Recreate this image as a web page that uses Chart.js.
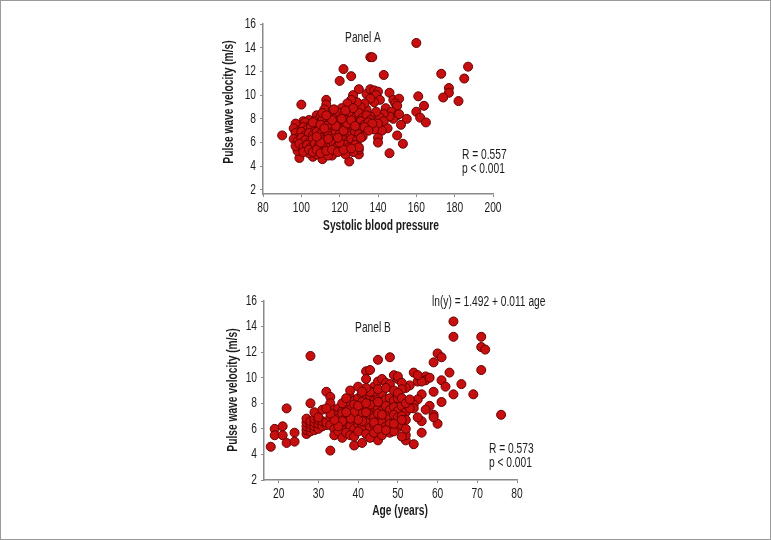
<!DOCTYPE html>
<html><head><meta charset="utf-8">
<script src="https://cdn.jsdelivr.net/npm/chart.js@4.4.0/dist/chart.umd.min.js"></script>
<style>
html,body{margin:0;padding:0;background:#fff;}
#frame{position:absolute;left:0;top:0;width:771px;height:540px;box-sizing:border-box;border:1px solid #9a9a9a;}
#ca{position:absolute;left:200px;top:0;}
#cb{position:absolute;left:200px;top:265px;}
</style></head>
<body>
<div id="frame"></div>
<canvas id="ca" width="330" height="245"></canvas>
<canvas id="cb" width="371" height="275"></canvas>
<script>
// ---------- Data ----------
const yTicks = [2, 4, 6, 8, 10, 12, 14, 16];
const sbpTicks = [80, 100, 120, 140, 160, 180, 200];
const ageTicks = [20, 30, 40, 50, 60, 70, 80];

// Panel A: [systolic blood pressure, pulse wave velocity]
const panelAPoints = [
 [160,14.4],[136,13.2],[137,13.2],[187,12.4],[122,12.2],[173,11.8],[143,11.7],[126,11.6],[185,11.4],[120,11.2],
 [177,10.6],[177,10.2],[174,9.8],[182,9.5],[161,9.9],[164,9.1],[160,8.6],[162,8.1],[165,7.7],[155,8.0],
 [152,7.5],[150,6.6],[153,5.9],[146,5.1],[100,9.2],[90,6.6],[125,4.4],[99,4.7],[111,4.6],
 [130,10.5],[127,10.0],[134,10.1],[136,10.5],[138,10.4],[140,10.3],[137,9.8],[139,10.0],[141,9.6],[138,9.4],
 [136,9.7],[146,10.2],[148,9.6],[151,9.7],[149,9.3],[150,9.1],[144,8.9],[147,8.6],[150,8.3],[148,8.0],
 [151,8.4],[146,8.2],[143,8.4],[141,8.1],[139,8.6],[143,7.8],[145,7.2],[142,7.0],[140,7.6],[138,7.1],
 [140,6.4],[140,6.0],[136,8.2],[134,8.8],[133,9.3],[131,9.0],[129,9.4],[126,9.6],[124,9.3],[121,8.9],
 [119,8.5],[113,9.6],[113,9.2],[112,8.8],[130,5.0],[130,5.4],[127,5.2],[123,5.0],[116,4.9],[114,4.9],
 [106,4.8],[108,5.0],[104,5.1],[100,5.3],[98,5.3],
 [108,8.3],[110,8.2],[114,8.0],[116,8.4],[118,8.1],[120,8.5],[122,8.3],[124,8.1],[126,8.4],[128,8.2],
 [130,8.5],[132,8.1],[134,8.3],[136,7.9],[101,7.8],[104,7.9],
 [97,7.6],[102,7.7],[105,7.5],[107,7.8],[109,7.6],[111,7.9],[113,7.6],[115,7.8],[117,7.5],[119,7.8],
 [121,7.6],[123,7.9],[125,7.6],[127,7.8],[129,7.6],[131,7.8],[133,7.5],[135,7.7],[137,7.6],
 [96,7.2],[99,7.0],[101,7.3],[103,7.1],[105,7.3],[107,7.0],[109,7.3],[111,7.1],[113,7.4],[115,7.2],
 [117,7.0],[119,7.3],[121,7.1],[123,7.4],[125,7.2],[127,7.0],[129,7.3],[131,7.1],[133,7.3],[135,7.0],
 [97,6.8],[99,6.5],[100,6.9],[102,6.6],[104,6.8],[106,6.6],[108,6.9],[110,6.7],[112,6.5],[114,6.8],
 [116,6.6],[118,6.9],[120,6.7],[122,6.5],[124,6.8],[126,6.6],[128,6.9],[130,6.7],[132,6.5],
 [96,6.3],[98,6.1],[100,6.4],[102,6.2],[104,6.0],[106,6.3],[108,6.1],[110,6.4],[112,6.2],[114,6.0],
 [116,6.3],[118,6.1],[120,6.4],[122,6.2],[124,6.0],[126,6.3],[129,6.2],[131,6.4],
 [97,5.7],[99,5.9],[101,5.6],[103,5.8],[105,5.6],[107,5.9],[109,5.7],[111,5.5],[113,5.8],[115,5.6],
 [117,5.9],[119,5.7],[121,5.5],[123,5.8],[125,5.6],[128,5.8],[130,5.6],
 [101,5.2],[104,5.4],[106,5.2],[108,5.4],[110,5.1],[113,5.3],[116,5.4],[119,5.2],[122,5.4],[126,5.5],
 [106,7.7],[110,7.5],[112,7.2],[114,6.3],[118,7.4],[120,6.0],[122,7.0],[124,7.6],[126,7.9],[128,7.4],
 [110,6.0],[108,6.5],[116,7.9],[119,6.4],[121,8.0],[125,8.6],[127,8.9],[123,8.7],[117,8.8],[111,8.5],[113,8.3]
];

// Panel B: [age, pulse wave velocity]
const panelBPoints = [
 [18,4.6],[19,6.0],[19,5.5],[21,6.2],[21,5.5],[22,7.6],[22,4.9],[24,5.7],[24,5.0],[28,11.7],
 [28,8.0],[32,8.9],[33,4.3],[39,4.7],[41,4.9],[42,10.5],[43,10.6],[42,9.9],[45,11.4],[48,11.6],
 [45,5.1],[49,10.2],[50,9.9],[50,10.1],[52,5.1],[52,5.5],[54,4.8],[54,10.4],[57,10.1],[57,9.8],
 [59,11.2],[60,11.9],[61,11.6],[61,9.8],[62,9.3],[63,10.4],[64,14.4],[64,13.2],[64,8.7],[66,9.5],
 [69,8.7],[71,13.2],[71,12.4],[72,12.2],[71,10.6],[76,7.1],[61,8.1],[60,6.4],[59,7.1],[59,6.9],
 [59,8.9],[58,7.8],[56,5.7],[56,6.6],[56,8.7],[55,8.3],[55,9.7],[56,9.7],[58,10.0],[55,10.2],
 [53,9.4],[52,9.2],[51,9.6],[51,9.1],[53,7.7],[54,7.9],[54,7.6],[57,7.5],[55,6.9],
 [27,5.6],[27,5.9],[27,6.2],[27,6.5],[27,6.8],[28,5.8],[28,6.1],[28,6.4],[28,6.6],[29,5.9],
 [29,6.2],[29,6.5],[29,6.8],[30,6.0],[30,6.4],[30,6.7],[31,6.2],[31,6.6],[32,6.3],[32,6.5],
 [29,7.3],[30,6.9],[31,7.5],[33,8.5],[33,8.0],[34,7.5],
 [38,8.5],[39,8.2],[40,8.4],[41,8.7],[42,8.3],[43,8.6],[44,8.2],[45,8.5],[46,8.8],[47,8.3],
 [48,8.4],[49,8.2],[50,8.4],[44,9.3],[45,9.7],[46,9.9],[47,9.6],[44,8.9],[48,9.5],[41,8.1],
 [35,7.6],[36,7.4],[37,7.8],[38,7.5],[39,7.9],[40,7.6],[41,7.4],[42,7.8],[43,7.5],[44,7.9],
 [45,7.6],[46,7.4],[47,7.8],[48,7.5],[49,7.7],[50,7.4],[51,7.8],[52,7.3],[53,7.6],
 [33,6.9],[34,7.1],[35,6.8],[36,7.2],[37,6.9],[38,7.1],[39,6.7],[40,7.0],[41,7.2],[42,6.8],
 [43,7.1],[44,6.9],[45,7.2],[46,6.7],[47,7.0],[48,6.8],[49,7.1],[50,6.9],[51,7.0],[52,6.7],
 [33,6.3],[34,6.0],[35,6.4],[36,6.1],[37,6.5],[38,6.2],[39,6.0],[40,6.4],[41,6.2],[42,6.5],
 [43,6.1],[44,6.3],[46,6.5],[47,6.2],[48,6.4],[50,6.1],[51,6.3],[52,6.0],
 [34,5.5],[35,5.8],[36,5.3],[37,5.7],[38,5.5],[39,5.4],[40,5.8],[42,5.6],[43,5.3],[44,5.7],
 [46,5.5],[48,5.7],[49,5.8],[51,5.4],
 [39,7.3],[40,7.8],[41,6.6],[42,7.3],[43,7.9],[44,6.5],[45,8.1],[46,7.1],[42,8.0],[40,6.7],
 [38,6.8],[37,7.3],[36,6.6],[35,6.2],[34,6.7],[33,7.2],[32,7.6],[43,8.9],[42,9.2],[45,9.1],
 [47,9.2],[49,9.0],[50,8.8],[51,8.4],[52,8.0],[53,8.3],[36,8.0],[37,8.4],[38,9.0],[40,9.3],
 [41,8.9],[45,6.0],[47,5.9],[49,6.4],[51,6.7]
];

const yTitle = 'Pulse wave velocity (m/s)';
const xTitleA = 'Systolic blood pressure';
const xTitleB = 'Age (years)';
const notesA = [
  {text: 'Panel A', x: 163, y: 38, align: 'center'},
  {text: 'R = 0.557', x: 262, y: 155, align: 'left'},
  {text: 'p < 0.001', x: 262, y: 169, align: 'left'}
];
const notesB = [
  {text: 'ln(y) = 1.492 + 0.011 age', x: 232, y: 37, align: 'left'},
  {text: 'Panel B', x: 173, y: 63, align: 'center'},
  {text: 'R = 0.573', x: 289, y: 184, align: 'left'},
  {text: 'p < 0.001', x: 289, y: 198, align: 'left'}
];

// ---------- Rendering ----------
const FONT = "'Liberation Sans',Arial,sans-serif";
const TXT = '#1c1c1c';
const AXIS = '#8a8a8a';
const NARROW = 0.73;   // horizontal squeeze to mimic a narrow typeface

function narrowText(ctx, text, x, y, align, rotate) {
  ctx.save();
  ctx.translate(x, y);
  if (rotate) ctx.rotate(-Math.PI / 2);
  ctx.scale(NARROW, 1);
  ctx.textAlign = align;
  ctx.textBaseline = 'middle';
  ctx.fillText(text, 0, 0);
  ctx.restore();
}

const textPlugin = {
  id: 'texts',
  afterDraw(chart, args, o) {
    const ctx = chart.ctx;
    const xs = chart.scales.x, ys = chart.scales.y;
    ctx.save();
    ctx.fillStyle = TXT;
    // tick labels
    ctx.font = '14px ' + FONT;
    o.xTicks.forEach(v => narrowText(ctx, String(v), xs.getPixelForValue(v), xs.top + 14, 'center'));
    yTicks.forEach(v => narrowText(ctx, String(v), ys.right - 7, ys.getPixelForValue(v), 'right'));
    // axis titles
    ctx.font = 'bold 14px ' + FONT;
    narrowText(ctx, o.xTitle, o.xTitleX, o.xTitleY, 'center');
    narrowText(ctx, yTitle, o.yTitleX, o.yTitleY, 'center', true);
    // annotations
    ctx.font = '14px ' + FONT;
    o.notes.forEach(n => narrowText(ctx, n.text, n.x, n.y, n.align));
    ctx.restore();
  }
};

function makeChart(id, points, cfg) {
  return new Chart(document.getElementById(id), {
    type: 'scatter',
    data: {
      datasets: [{
        data: points.map(p => ({x: p[0], y: p[1]})),
        pointRadius: 4.5,
        pointHoverRadius: 4.5,
        backgroundColor: '#c80f0f',
        borderColor: '#650000',
        borderWidth: 1
      }]
    },
    options: {
      responsive: false,
      animation: false,
      events: [],
      layout: {padding: cfg.padding},
      plugins: {
        legend: {display: false},
        tooltip: {enabled: false},
        texts: cfg.text
      },
      scales: {
        x: {
          type: 'linear',
          min: cfg.xMin, max: cfg.xMax,
          afterBuildTicks: s => { s.ticks = cfg.text.xTicks.map(v => ({value: v})); },
          afterFit: s => { s.height = cfg.xH; },
          grid: {display: true, drawOnChartArea: false, drawTicks: true, tickLength: 3, color: AXIS},
          border: {display: true, color: AXIS, width: 1.5},
          ticks: {display: false},
          title: {display: false}
        },
        y: {
          type: 'linear',
          min: cfg.yMin, max: 16,
          afterBuildTicks: s => { s.ticks = yTicks.map(v => ({value: v})); },
          afterFit: s => { s.width = cfg.yW; },
          grid: {display: true, drawOnChartArea: false, drawTicks: true, tickLength: 3, color: AXIS},
          border: {display: true, color: AXIS, width: 1.5},
          ticks: {display: false},
          title: {display: false}
        }
      }
    },
    plugins: [textPlugin]
  });
}

makeChart('ca', panelAPoints, {
  xMin: 80, xMax: 200, yMin: 1.66,
  padding: {left: 18, right: 37, top: 24, bottom: 8},
  yW: 45, xH: 43,
  text: {xTicks: sbpTicks, xTitle: xTitleA, xTitleX: 181, xTitleY: 226, yTitleX: 29, yTitleY: 102, notes: notesA}
});
makeChart('cb', panelBPoints, {
  xMin: 16.3, xMax: 80, yMin: 2,
  padding: {left: 22, right: 54, top: 36, bottom: 18},
  yW: 42, xH: 42,
  text: {xTicks: ageTicks, xTitle: xTitleB, xTitleX: 200, xTitleY: 246, yTitleX: 33, yTitleY: 125, notes: notesB}
});
</script>
</body></html>
